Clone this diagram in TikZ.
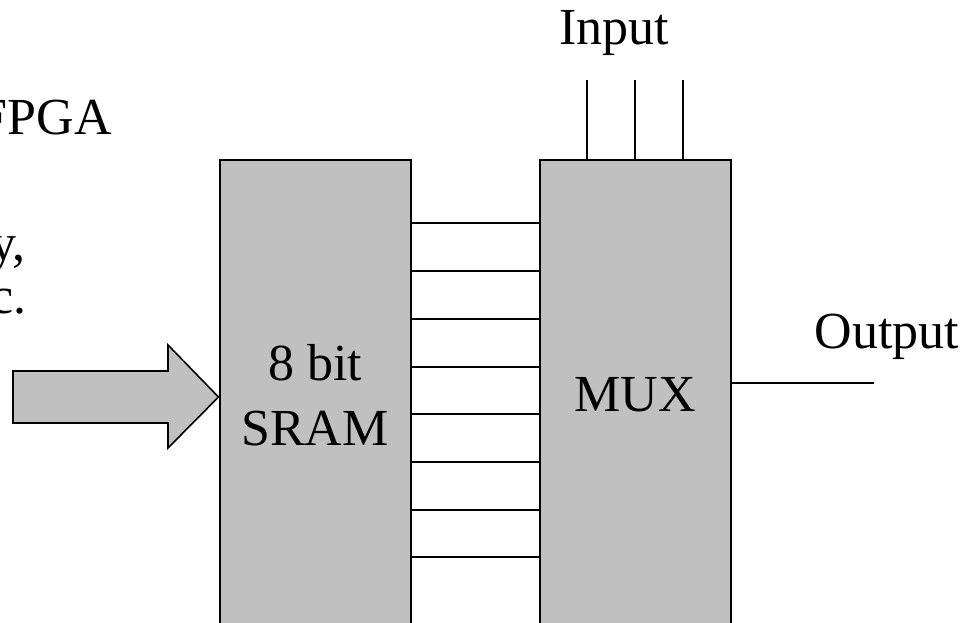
\documentclass[tikz,border=0pt]{standalone}
\usepackage{fontspec}
\setmainfont{Liberation Serif}
\definecolor{boxgray}{RGB}{192,192,192}
\begin{document}
\begin{tikzpicture}[x=1pt,y=-1pt,
  blk/.style={draw,line width=2pt,fill=boxgray,minimum width=191pt,minimum height=470pt,inner sep=0pt,align=center,
    font=\fontsize{52}{65}\selectfont},
  wire/.style={line width=1.6pt},
  lbl/.style={font=\fontsize{52}{65}\selectfont,inner sep=0pt}]
\useasboundingbox (0,0) rectangle (968,623);
\clip (0,0) rectangle (968,623);
\node[blk] (sram) at (315,395) {8 bit\\SRAM};
\node[blk] (mux) at (635,395) {MUX};
% bus lines
\foreach \y in {223,271,319,367,414,462,510,557}
  \draw[wire] (sram.east |- 0,\y) -- (mux.west |- 0,\y);
% inputs
\foreach \x/\n in {587/1,635/2,683/3}{
  \coordinate (in\n) at (\x,80);
  \draw[wire] (in\n) -- (in\n |- mux.north);
}
\node[lbl,anchor=base] (inlbl) at (614,45) {Input};
% output
\coordinate (out) at (874,383);
\draw[wire] (mux.east |- out) -- (out);
\node[lbl,anchor=base] (outlbl) at (887,348) {Output};
% big arrow
\draw[line width=1.6pt,fill=boxgray]
  (13,371) -- (168,371) -- (168,345) -- (sram.west |- 0,397) -- (168,448) -- (168,423) -- (13,423) -- cycle;
% clipped left text
\node[lbl,anchor=base east] (t1) at (112,135) {FPGA};
\node[lbl,anchor=base east] (t2) at (26,260) {y,};
\node[lbl,anchor=base east] (t3) at (27,313) {c.};
\end{tikzpicture}
\end{document}
